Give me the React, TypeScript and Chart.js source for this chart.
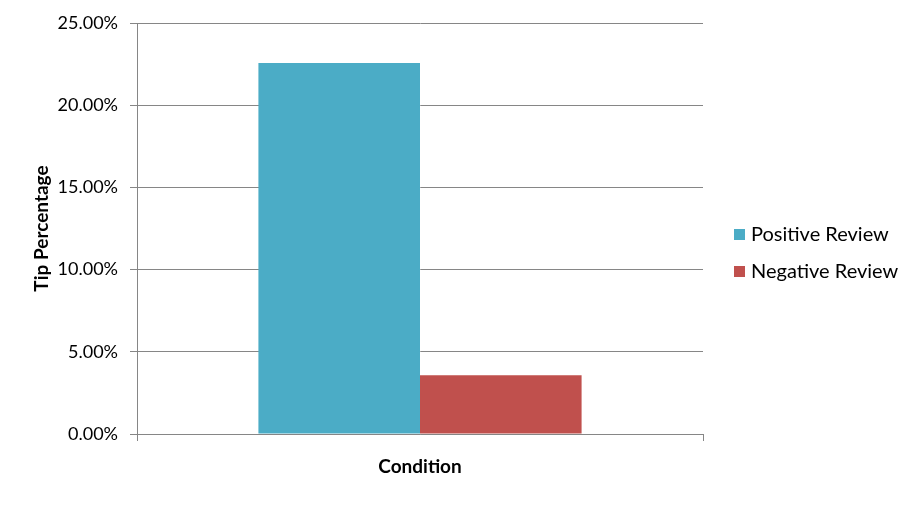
import React, { useEffect, useRef } from "react";
import { Chart, registerables } from "chart.js";

Chart.register(...registerables);

const categories: string[] = [""];
const seriesNames: string[] = ["Positive Review", "Negative Review"];
const positiveValues: number[] = [0.2256];
const negativeValues: number[] = [0.0357];
const seriesColors: string[] = ["#4BACC6", "#C0504D"];
const yTickMin = 0;
const yTickMax = 0.25;
const yTickStep = 0.05;
const xTitle = "Condition";
const yTitle = "Tip Percentage";

const GRID = "#868686";
const FONT = "Lato";

const sideLegend = {
  id: "sideLegend",
  afterDraw(chart: any) {
    const ctx = chart.ctx;
    const area = chart.chartArea;
    const sets = chart.data.datasets;
    const rowGap = 37;
    const box = 11;
    const x = area.right + 31;
    const mid = chart.height / 2;
    ctx.save();
    ctx.font = `20px ${FONT}`;
    ctx.textBaseline = "middle";
    ctx.textAlign = "left";
    sets.forEach((ds: any, i: number) => {
      const cy = mid + (i - (sets.length - 1) / 2) * rowGap;
      ctx.fillStyle = ds.backgroundColor;
      ctx.fillRect(x, Math.round(cy - box / 2), box, box);
      ctx.fillStyle = "#000";
      ctx.fillText(ds.label, x + box + 6, cy);
    });
    ctx.restore();
  },
};

export default function App() {
  const ref = useRef<HTMLCanvasElement | null>(null);

  useEffect(() => {
    document.body.style.margin = "0";
    document.body.style.overflow = "hidden";
    const canvas = ref.current;
    if (!canvas) return;
    const chart = new Chart(canvas, {
      type: "bar",
      data: {
        labels: categories,
        datasets: [
          {
            label: seriesNames[0],
            data: positiveValues,
            backgroundColor: seriesColors[0],
            borderWidth: 0,
            categoryPercentage: 0.571,
            barPercentage: 1,
          },
          {
            label: seriesNames[1],
            data: negativeValues,
            backgroundColor: seriesColors[1],
            borderWidth: 0,
            categoryPercentage: 0.571,
            barPercentage: 1,
          },
        ],
      },
      plugins: [sideLegend],
      options: {
        responsive: false,
        animation: false,
        devicePixelRatio: 1,
        layout: { padding: { left: 0, top: 0, bottom: 0, right: 218 } },
        plugins: {
          tooltip: { enabled: false },
          legend: { display: false },
        },
        scales: {
          x: {
            type: "category",
            position: "bottom",
            grid: {
              display: true,
              drawOnChartArea: false,
              drawTicks: true,
              tickLength: 7,
              color: GRID,
              offset: true,
            },
            border: { display: true, color: GRID },
            ticks: { display: false },
            title: {
              display: true,
              text: xTitle,
              color: "#000",
              font: { family: FONT, size: 19, weight: "bold" },
              padding: { top: 0, bottom: 28 },
            },
            afterFit: (s: any) => {
              s.height = 72;
            },
          },
          xTop: {
            type: "category",
            position: "top",
            display: true,
            grid: { display: false },
            border: { display: false },
            ticks: { display: false },
            afterFit: (s: any) => {
              s.height = 23;
            },
          },
          y: {
            type: "linear",
            position: "left",
            min: yTickMin,
            max: yTickMax,
            grid: {
              color: GRID,
              tickLength: 7,
              drawTicks: true,
            },
            border: { display: true, color: GRID },
            ticks: {
              stepSize: yTickStep,
              padding: 12,
              color: "#000",
              font: { family: FONT, size: 18 },
              callback: (v: any) => (Number(v) * 100).toFixed(2) + "%",
            },
            title: {
              display: true,
              text: yTitle,
              color: "#000",
              font: { family: FONT, size: 19, weight: "bold" },
              padding: { top: 30, bottom: 0 },
            },
            afterFit: (s: any) => {
              s.width = 137;
            },
          },
        },
      },
    } as any);
    return () => chart.destroy();
  }, []);

  return (
    <div style={{ width: 921, height: 506, background: "#fff" }}>
      <canvas ref={ref} width={921} height={506} style={{ display: "block" }} />
    </div>
  );
}
